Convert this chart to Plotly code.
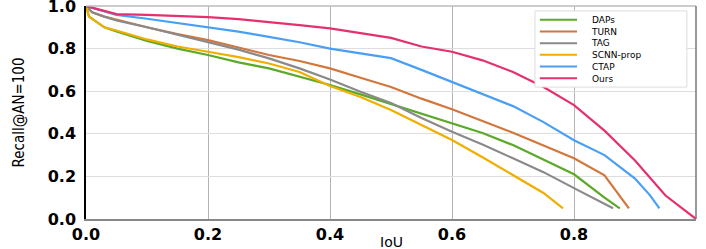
import plotly.graph_objects as go

daps_iou = [0, 0.005, 0.03, 0.05, 0.1, 0.15, 0.2, 0.25, 0.3, 0.35, 0.4, 0.45, 0.5, 0.55, 0.6, 0.65, 0.7, 0.75, 0.8, 0.85, 0.875]
daps_recall = [1.0, 0.95, 0.90, 0.88, 0.836, 0.80, 0.77, 0.735, 0.707, 0.667, 0.629, 0.585, 0.54, 0.497, 0.45, 0.404, 0.347, 0.277, 0.21, 0.10, 0.05]

turn_iou = [0, 0.01, 0.03, 0.05, 0.1, 0.15, 0.2, 0.25, 0.3, 0.35, 0.4, 0.45, 0.5, 0.55, 0.6, 0.65, 0.7, 0.75, 0.8, 0.85, 0.89]
turn_recall = [1.0, 0.97, 0.95, 0.935, 0.90, 0.868, 0.84, 0.805, 0.77, 0.742, 0.707, 0.663, 0.62, 0.565, 0.515, 0.46, 0.405, 0.345, 0.285, 0.205, 0.05]

tag_iou = [0, 0.01, 0.03, 0.05, 0.1, 0.15, 0.2, 0.25, 0.3, 0.35, 0.4, 0.45, 0.5, 0.55, 0.6, 0.65, 0.7, 0.75, 0.8, 0.864]
tag_recall = [1.0, 0.97, 0.95, 0.932, 0.90, 0.866, 0.83, 0.795, 0.754, 0.707, 0.655, 0.597, 0.545, 0.474, 0.41, 0.35, 0.285, 0.22, 0.145, 0.05]

scnn_iou = [0, 0.005, 0.03, 0.05, 0.1, 0.15, 0.2, 0.25, 0.3, 0.35, 0.4, 0.45, 0.5, 0.55, 0.6, 0.65, 0.7, 0.75, 0.782]
scnn_recall = [1.0, 0.95, 0.90, 0.885, 0.843, 0.81, 0.785, 0.76, 0.73, 0.69, 0.624, 0.573, 0.512, 0.44, 0.371, 0.29, 0.207, 0.122, 0.05]

ctap_iou = [0, 0.05, 0.1, 0.15, 0.2, 0.25, 0.3, 0.35, 0.4, 0.45, 0.5, 0.55, 0.6, 0.65, 0.7, 0.75, 0.8, 0.85, 0.9, 0.925, 0.94]
ctap_recall = [1.0, 0.958, 0.94, 0.92, 0.90, 0.88, 0.855, 0.83, 0.80, 0.778, 0.755, 0.70, 0.643, 0.585, 0.53, 0.455, 0.37, 0.30, 0.19, 0.11, 0.05]

ours_iou = [0, 0.05, 0.1, 0.15, 0.2, 0.25, 0.3, 0.35, 0.4, 0.45, 0.5, 0.55, 0.6, 0.65, 0.7, 0.75, 0.8, 0.85, 0.9, 0.95, 1.0]
ours_recall = [1.0, 0.962, 0.958, 0.953, 0.948, 0.938, 0.925, 0.91, 0.895, 0.873, 0.85, 0.81, 0.785, 0.745, 0.69, 0.62, 0.535, 0.415, 0.275, 0.11, 0.0]

series_names = ["DAPs", "TURN", "TAG", "SCNN-prop", "CTAP", "Ours"]
series_colors = ["#5aaa28", "#d2773c", "#8a8a8a", "#f0ae00", "#4a9ff5", "#e5306f"]
series_x = [daps_iou, turn_iou, tag_iou, scnn_iou, ctap_iou, ours_iou]
series_y = [daps_recall, turn_recall, tag_recall, scnn_recall, ctap_recall, ours_recall]

tick_vals = [0.0, 0.2, 0.4, 0.6, 0.8, 1.0]
tick_text = ["0.0", "0.2", "0.4", "0.6", "0.8", "1.0"]

fig = go.Figure()
for name, x, y, c in zip(series_names, series_x, series_y, series_colors):
    fig.add_trace(go.Scatter(x=x, y=y, mode="lines", name=name,
                             line=dict(color=c, width=2.2)))

tickfont = dict(family="DejaVu Sans", size=16, color="black", weight="bold")
fig.update_layout(
    width=706, height=249,
    margin=dict(l=86, r=10, t=6, b=30, autoexpand=False),
    paper_bgcolor="white", plot_bgcolor="white",
    showlegend=False,
    xaxis=dict(range=[0, 1.0], tickvals=tick_vals, ticktext=tick_text,
               showgrid=True, gridcolor="#b4b4b4", gridwidth=1,
               showline=True, linecolor="#888888", linewidth=1.5,
               ticks="", tickfont=tickfont, zeroline=False,
               automargin=False, ticklabelstandoff=0),
    yaxis=dict(range=[0, 1.0], tickvals=tick_vals, ticktext=tick_text,
               showgrid=True, gridcolor="#dedede", gridwidth=1,
               showline=True, linecolor="black", linewidth=1.5,
               ticks="", tickfont=tickfont, zeroline=False, automargin=False,
               ticklabeloverflow="allow", ticklabelstandoff=5,
               title=dict(text="Recall@AN=100",
                          font=dict(family="Liberation Sans Narrow, DejaVu Sans Condensed, Liberation Sans", size=15, color="black"),
                          standoff=19)),
)
# x-axis title
fig.add_annotation(text="IoU", xref="paper", yref="paper", x=0.5, y=0,
                   xanchor="center", yanchor="top", yshift=-13, showarrow=False,
                   font=dict(family="DejaVu Sans", size=14, color="black"))
# top/right frame
fig.add_shape(type="line", xref="paper", yref="paper", x0=0, x1=1, y0=1, y1=1,
              line=dict(color="#bbbbbb", width=1.5))
fig.add_shape(type="line", xref="paper", yref="paper", x0=1, x1=1, y0=0, y1=1,
              line=dict(color="#777777", width=1.5))

# compact legend box
plot_h = 249 - 6 - 30
leg_font = 9
line_px = 1.3 * leg_font
pad_px = 3
lx0, lx1, ly1 = 0.736, 0.985, 0.977
ly0 = ly1 - (len(series_names) * line_px + 2 * pad_px) / plot_h
fig.add_shape(type="rect", xref="paper", yref="paper", x0=lx0, x1=lx1, y0=ly0, y1=ly1,
              line=dict(color="#dddddd", width=1), fillcolor="white", layer="above")
for i, c in enumerate(series_colors):
    yy = ly1 - (pad_px + (i + 0.5) * line_px) / plot_h
    fig.add_shape(type="line", xref="paper", yref="paper", x0=0.744, x1=0.805, y0=yy, y1=yy,
                  line=dict(color=c, width=2), layer="above")
fig.add_annotation(text="<br>".join(series_names), xref="paper", yref="paper",
                   x=0.826, y=ly1, yshift=-pad_px, xanchor="left", yanchor="top",
                   align="left", showarrow=False, borderpad=0,
                   font=dict(family="DejaVu Sans", size=leg_font, color="black"))

fig.write_html("out.html", config={"displayModeBar": False},
               post_script="document.body.style.margin='0';")
